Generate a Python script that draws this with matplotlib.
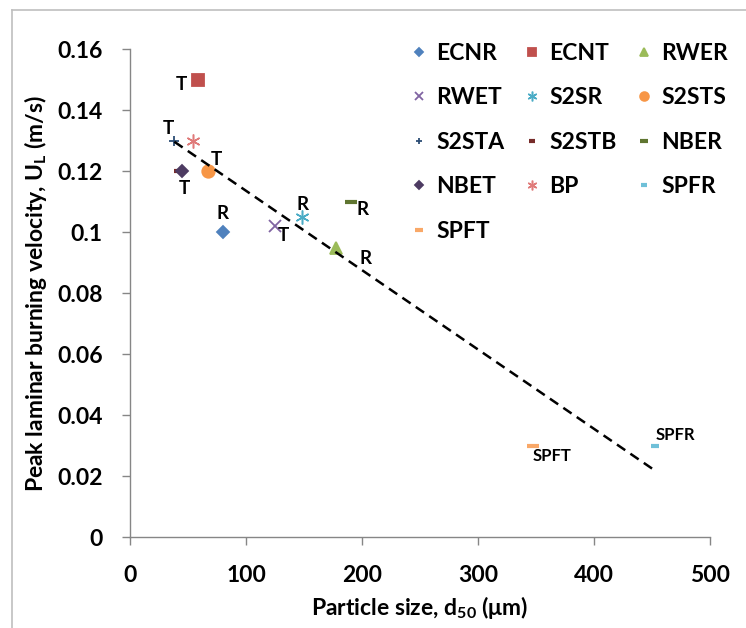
import numpy as np
import matplotlib.pyplot as plt
from matplotlib.lines import Line2D
from matplotlib.ticker import FuncFormatter

plt.rcParams['font.family'] = ['Lato', 'DejaVu Sans']
plt.rcParams['font.weight'] = 'bold'
plt.rcParams['mathtext.fontset'] = 'custom'
plt.rcParams['mathtext.rm'] = 'Lato:bold'
plt.rcParams['mathtext.it'] = 'Lato:bold'
plt.rcParams['mathtext.bf'] = 'Lato:bold'

# data
series = ['ECNR', 'ECNT', 'RWER', 'RWET', 'S2SR', 'S2STS', 'S2STA',
          'S2STB', 'NBER', 'NBET', 'BP', 'SPFR', 'SPFT']
d50 = [80, 58, 177, 125, 148, 67, 38, 41, 190, 45, 54, 453, 347]
ul = [0.100, 0.150, 0.095, 0.102, 0.105, 0.120, 0.130,
      0.120, 0.110, 0.120, 0.130, 0.030, 0.030]
point_tags = ['R', 'T', 'R', 'T', 'R', 'T', 'T', '', 'R', 'T', '', 'SPFR', 'SPFT']

# trend line ends
trend_x = [38, 451]
trend_y = [0.1297, 0.0223]

# marker style per series
markers = ['D', 's', '^', 'x', (6, 2, 0), 'o', '+', '_', '_', 'D', (6, 2, 0), '_', '_']
colors = ['#4F81BD', '#C0504D', '#9BBB59', '#8064A2', '#4BACC6', '#F79646', '#2C4D75',
          '#772C2A', '#5F7530', '#4D3B62', '#E07B7A', '#6FC0D8', '#F9A868']
sizes = [6, 9, 8, 8, 10, 9, 7, 6, 9, 6, 10, 6, 9]
# label offsets in pixels (dx, dy)
tag_off = [(-1, 19), (-16, -5), (30, -11), (8, -9), (1, 13), (8, 12), (-6, 12),
           (0, 0), (12, -8), (2, -17), (0, 0), (20, 11), (19, -10)]

fig = plt.figure(figsize=(7.46, 6.28), dpi=100)
ax = fig.add_axes([0.1747, 0.1444, 0.777, 0.777])

handles = []
for i, name in enumerate(series):
    mew = 1.3
    if markers[i] == '_':
        mew = 3
    elif isinstance(markers[i], tuple):
        mew = 1.1
    h, = ax.plot(d50[i], ul[i], linestyle='none', marker=markers[i], color=colors[i],
                 markersize=sizes[i], markeredgewidth=mew, label=name)
    handles.append(h)
    if point_tags[i]:
        small = len(point_tags[i]) > 1
        ax.annotate(point_tags[i], (d50[i], ul[i]), xytext=tag_off[i],
                    textcoords='offset pixels', ha='center', va='center',
                    fontsize=12 if small else 13.5, fontweight='bold')

ax.plot(trend_x, trend_y, color='black', linestyle=(0, (4, 2.5)), linewidth=1.8)

ax.set_xlim(0, 500)
ax.set_ylim(0, 0.16)
ax.set_xticks(np.arange(0, 501, 100))
ax.set_yticks(np.arange(0, 0.161, 0.02))
ax.yaxis.set_major_formatter(FuncFormatter(lambda v, p: '%g' % round(v, 2)))

for s in ['top', 'right']:
    ax.spines[s].set_visible(False)
for s in ['left', 'bottom']:
    ax.spines[s].set_color('#868686')
    ax.spines[s].set_linewidth(1)
ax.tick_params(direction='out', length=6, width=1, color='#868686',
               labelsize=16.5, pad=14)

ax.set_xlabel(r'Particle size, d$_{50}$ ($\mathregular{\mu}$m)', fontsize=16.5,
              fontweight='bold', labelpad=6)
ax.set_ylabel(r'Peak laminar burning velocity, U$_{L}$ (m/s)', fontsize=16.5,
              fontweight='bold', labelpad=6)

# legend filled row by row like the original
order = [0, 3, 6, 9, 12, 1, 4, 7, 10, 2, 5, 8, 11]
fig.legend([handles[k] for k in order], [series[k] for k in order],
           loc='upper left', bbox_to_anchor=(0.522, 0.965), ncol=3, frameon=False,
           markerscale=0.7, handlelength=0.8, handletextpad=0.35,
           columnspacing=0.8, labelspacing=1.03, prop={'weight': 'bold', 'size': 16.5})

# outer chart frame
fig.add_artist(Line2D([0.016, 1.0], [0.984, 0.984], color='#BFBFBF', linewidth=1.2))
fig.add_artist(Line2D([0.016, 0.016], [0.0, 0.984], color='#BFBFBF', linewidth=1.2))

fig.savefig('out.png', dpi=100)
